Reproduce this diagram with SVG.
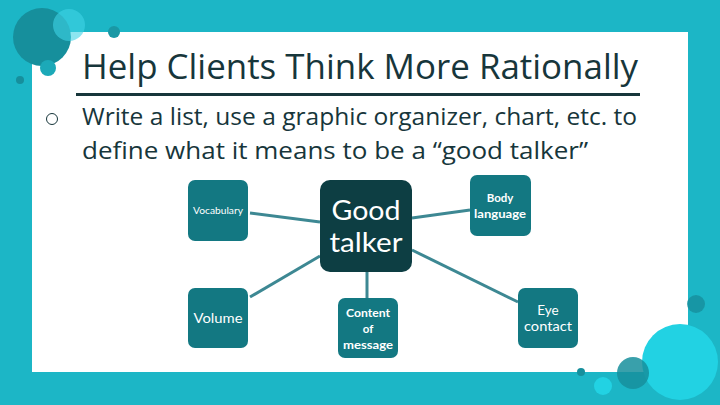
<svg xmlns="http://www.w3.org/2000/svg" width="720" height="405" viewBox="0 0 720 405">
<style>
.node{fill:#137882}
.hub{fill:#0d3e43}
.lbl{fill:#ffffff;font-family:Lato,"Open Sans",sans-serif;text-anchor:middle}
.sb{font-size:11.5px;font-weight:bold}
.con{stroke:#3d8893;stroke-width:3;fill:none}
.ttl{fill:#17363b;font-family:"Open Sans","Noto Sans",sans-serif}
</style>
<rect width="720" height="405" fill="#1cb6c6"/>
<rect x="32" y="32" width="656" height="340" fill="#ffffff"/>
<g id="decor">
<circle cx="42" cy="37" r="29" fill="#168f9c"/>
<circle cx="69" cy="25" r="16" fill="#3fd3e6" fill-opacity="0.6"/>
<circle cx="48" cy="68" r="8" fill="#1ca9b8"/>
<circle cx="20" cy="80" r="4" fill="#168f9c"/>
<circle cx="114" cy="32" r="6" fill="#1a98a5"/>
<circle cx="680" cy="362" r="38" fill="#22d2e3"/>
<circle cx="633" cy="373" r="16" fill="#168f9c" fill-opacity="0.85"/>
<circle cx="696" cy="304" r="9" fill="#168f9c" fill-opacity="0.8"/>
<circle cx="581" cy="372" r="4" fill="#168f9c"/>
<circle cx="603" cy="386" r="9" fill="#22d2e3"/>
</g>
<g id="title">
<text class="ttl" x="82" y="79" font-size="34" textLength="556" lengthAdjust="spacingAndGlyphs">Help Clients Think More Rationally</text>
<rect x="76" y="93" width="564" height="3" fill="#17363b"/>
<circle cx="52" cy="119" r="5.5" fill="none" stroke="#17363b" stroke-width="1"/>
<text class="ttl" x="82" y="125" font-size="24" textLength="555" lengthAdjust="spacingAndGlyphs">Write a list, use a graphic organizer, chart, etc. to</text>
<text class="ttl" x="82" y="159" font-size="24" textLength="506" lengthAdjust="spacingAndGlyphs">define what it means to be a “good talker”</text>
</g>
<g id="connectors">
<line class="con" x1="250" y1="213" x2="320" y2="222"/>
<line class="con" x1="250" y1="297" x2="320" y2="256"/>
<line class="con" x1="367" y1="272" x2="367" y2="298"/>
<line class="con" x1="412" y1="218" x2="470" y2="210"/>
<line class="con" x1="412" y1="250" x2="518" y2="302"/>
</g>
<g id="node-vocabulary">
<rect class="node" x="188" y="180" width="60" height="61" rx="7"/>
<text class="lbl" x="218" y="214" font-size="10" textLength="50" lengthAdjust="spacingAndGlyphs">Vocabulary</text>
</g>
<g id="node-volume">
<rect class="node" x="188" y="288" width="60" height="60" rx="7"/>
<text class="lbl" x="218" y="323" font-size="13.5" textLength="49" lengthAdjust="spacingAndGlyphs">Volume</text>
</g>
<g id="node-good-talker">
<rect class="hub" x="320" y="180" width="92" height="92" rx="10"/>
<text class="lbl" x="366" y="220" font-size="26" textLength="69" lengthAdjust="spacingAndGlyphs">Good</text>
<text class="lbl" x="366" y="252" font-size="26" textLength="73" lengthAdjust="spacingAndGlyphs">talker</text>
</g>
<g id="node-content">
<rect class="node" x="338" y="298" width="60" height="60" rx="7"/>
<text class="lbl sb" x="368" y="317" textLength="44" lengthAdjust="spacingAndGlyphs">Content</text>
<text class="lbl sb" x="368" y="333">of</text>
<text class="lbl sb" x="368" y="349" textLength="50" lengthAdjust="spacingAndGlyphs">message</text>
</g>
<g id="node-body">
<rect class="node" x="470" y="175" width="61" height="61" rx="7"/>
<text class="lbl sb" x="500" y="202">Body</text>
<text class="lbl sb" x="500" y="218" textLength="52" lengthAdjust="spacingAndGlyphs">language</text>
</g>
<g id="node-eye">
<rect class="node" x="518" y="288" width="60" height="60" rx="7"/>
<text class="lbl" x="548" y="315" font-size="13.5">Eye</text>
<text class="lbl" x="548" y="331" font-size="13.5" textLength="48" lengthAdjust="spacingAndGlyphs">contact</text>
</g>
</svg>
